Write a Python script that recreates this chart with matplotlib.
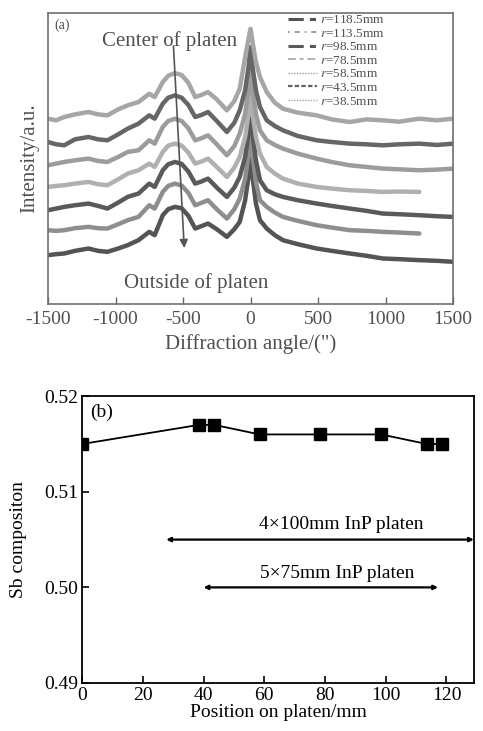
import matplotlib
matplotlib.use("Agg")
import matplotlib.pyplot as plt
from matplotlib.lines import Line2D

plt.rcParams['font.family'] = ['Liberation Serif', 'DejaVu Serif']
plt.rcParams['mathtext.fontset'] = 'stix'
plt.rcParams['axes.unicode_minus'] = False

# ---- panel (a): XRD rocking curves (intensity in arbitrary units, stacked) ----
angle = [-1500, -1440, -1380, -1300, -1200, -1130, -1060, -980, -910, -830,
         -750, -710, -650, -610, -560, -510, -460, -410, -365, -315, -250,
         -175, -120, -80, -40, -15, 0, 15, 40, 70, 120, 180, 240, 350, 490,
         600, 735, 860, 980, 1100, 1250, 1380, 1500]

i_385 = [557, 552, 562, 570, 577, 570, 567, 585, 597, 607, 632, 622, 667, 686,
         694, 688, 665, 622, 628, 637, 615, 582, 610, 647, 742, 797, 827, 787,
         727, 682, 637, 605, 587, 575, 567, 555, 547, 555, 552, 548, 557, 552,
         557]
i_435 = [487, 480, 477, 495, 502, 495, 492, 510, 527, 542, 567, 557, 602, 620,
         627, 620, 598, 562, 568, 577, 550, 517, 545, 582, 642, 712, 772, 712,
         642, 592, 552, 535, 522, 505, 492, 487, 482, 480, 477, 480, 482, 478,
         482]
i_585 = [417, 422, 427, 432, 437, 430, 427, 442, 457, 462, 492, 482, 532, 550,
         557, 550, 528, 492, 498, 507, 480, 447, 475, 512, 572, 642, 712, 642,
         572, 522, 492, 478, 467, 452, 437, 427, 417, 412, 407, 405, 402, 404,
         407]
i_785 = [352, 355, 357, 362, 367, 360, 357, 375, 392, 402, 422, 412, 457, 476,
         482, 476, 455, 422, 428, 437, 412, 382, 410, 442, 502, 572, 642, 572,
         502, 452, 412, 392, 377, 362, 352, 347, 342, 340, 337, 338, 337]
i_985 = [282, 287, 292, 297, 302, 295, 287, 305, 322, 332, 362, 352, 402, 420,
         427, 421, 398, 362, 368, 377, 350, 322, 350, 382, 442, 512, 582, 512,
         432, 372, 342, 330, 322, 312, 302, 295, 287, 280, 272, 270, 267, 264,
         262]
i_1135 = [222, 220, 222, 228, 232, 228, 227, 240, 252, 262, 297, 287, 337, 355,
          362, 356, 334, 297, 304, 312, 285, 257, 285, 317, 377, 447, 512, 447,
          367, 312, 292, 275, 262, 250, 237, 230, 222, 220, 217, 215, 212]
i_1185 = [147, 150, 152, 160, 167, 160, 157, 167, 177, 192, 217, 207, 267, 285,
          292, 288, 265, 227, 234, 242, 225, 202, 225, 247, 312, 382, 442, 382,
          302, 252, 227, 207, 192, 180, 167, 160, 152, 145, 137, 135, 132, 130,
          127]

curves = [
    # label, data, colour, legend linestyle, legend lw
    ('$r$=118.5mm', i_1185, '#545454', (0, (5, 2, 2, 2)), 2.2),
    ('$r$=113.5mm', i_1135, '#8e8e8e', (0, (1, 3, 3, 3)), 1.2),
    ('$r$=98.5mm', i_985, '#5a5a5a', (0, (5, 2, 2, 2)), 2.2),
    ('$r$=78.5mm', i_785, '#b0b0b0', (0, (4, 2, 2, 2)), 1.4),
    ('$r$=58.5mm', i_585, '#9c9c9c', (0, (1, 1)), 1.0),
    ('$r$=43.5mm', i_435, '#666666', (0, (2, 1)), 1.6),
    ('$r$=38.5mm', i_385, '#a6a6a6', (0, (1, 1)), 1.0),
]

# ---- panel (b): Sb composition ----
position = [0, 38.5, 43.5, 58.5, 78.5, 98.5, 113.5, 118.5]
sb_comp = [0.515, 0.517, 0.517, 0.516, 0.516, 0.516, 0.515, 0.515]

fig = plt.figure(figsize=(4.83, 7.31), dpi=100)
ax1 = fig.add_axes([0.0994, 0.584, 0.8386, 0.398])
ax2 = fig.add_axes([0.170, 0.0657, 0.811, 0.3923])

gray_txt = '#505050'
handles = []
for label, data, color, ls, lw in curves:
    ax1.plot(angle[:len(data)], data, color=color, lw=3.2,
             solid_joinstyle='round', solid_capstyle='round')
    handles.append(Line2D([], [], color=color, lw=lw, linestyle=ls, label=label))

ax1.set_xlim(-1500, 1500)
ax1.set_ylim(0, 874)
ax1.set_xticks([-1500, -1000, -500, 0, 500, 1000, 1500])
ax1.set_yticks([])
ax1.tick_params(axis='x', direction='in', length=5, width=1, colors='#666666',
                labelcolor=gray_txt, labelsize=14, pad=5)
for s in ax1.spines.values():
    s.set_color('#707070')
    s.set_linewidth(1.2)
ax1.set_xlabel('Diffraction angle/(")', fontsize=15, color=gray_txt, labelpad=4)
ax1.set_ylabel('Intensity/a.u.', fontsize=15, color=gray_txt, labelpad=6)
ax1.text(0.015, 0.98, '(a)', transform=ax1.transAxes, fontsize=10,
         color=gray_txt, va='top', ha='left')
ax1.text(-1100, 790, 'Center of platen', fontsize=15, color=gray_txt,
         ha='left', va='center')
ax1.text(-940, 62, 'Outside of platen', fontsize=15, color=gray_txt,
         ha='left', va='center')
ax1.annotate('', xy=(-490, 160), xytext=(-572, 784),
             arrowprops=dict(arrowstyle='-|>', color='#555555', lw=1.2,
                             mutation_scale=12))
ax1.legend(handles=handles, loc='upper left', bbox_to_anchor=(0.575, 1.02),
           frameon=False, fontsize=9.5, handlelength=2.2, handletextpad=0.3,
           labelspacing=0.1, borderpad=0, labelcolor=gray_txt)

ax2.plot(position, sb_comp, color='black', lw=1.3, marker='s', markersize=9)
ax2.set_xlim(0, 129)
ax2.set_ylim(0.49, 0.52)
ax2.set_xticks([0, 20, 40, 60, 80, 100, 120])
ax2.set_yticks([0.49, 0.50, 0.51, 0.52])
ax2.set_yticklabels(['0.49', '0.50', '0.51', '0.52'])
ax2.tick_params(axis='both', direction='in', length=5, width=1.2,
                labelsize=14, pad=3)
for s in ax2.spines.values():
    s.set_linewidth(1.3)
ax2.set_xlabel('Position on platen/mm', fontsize=14, labelpad=0)
ax2.set_ylabel('Sb compositon', fontsize=14, labelpad=12)
ax2.text(0.02, 0.975, '(b)', transform=ax2.transAxes, fontsize=14,
         va='top', ha='left')

ax2.annotate('', xy=(27.7, 0.505), xytext=(129, 0.505),
             arrowprops=dict(arrowstyle='<|-|>', color='black', lw=1.6,
                             mutation_scale=6, shrinkA=0, shrinkB=0))
ax2.annotate('', xy=(40, 0.500), xytext=(117.2, 0.500),
             arrowprops=dict(arrowstyle='<|-|>', color='black', lw=1.6,
                             mutation_scale=6, shrinkA=0, shrinkB=0))
ax2.text(85.5, 0.5066, '4\u00d7100mm InP platen', fontsize=14,
         ha='center', va='center')
ax2.text(84, 0.5015, '5\u00d775mm InP platen', fontsize=14,
         ha='center', va='center')

fig.savefig('out.png', dpi=100)
